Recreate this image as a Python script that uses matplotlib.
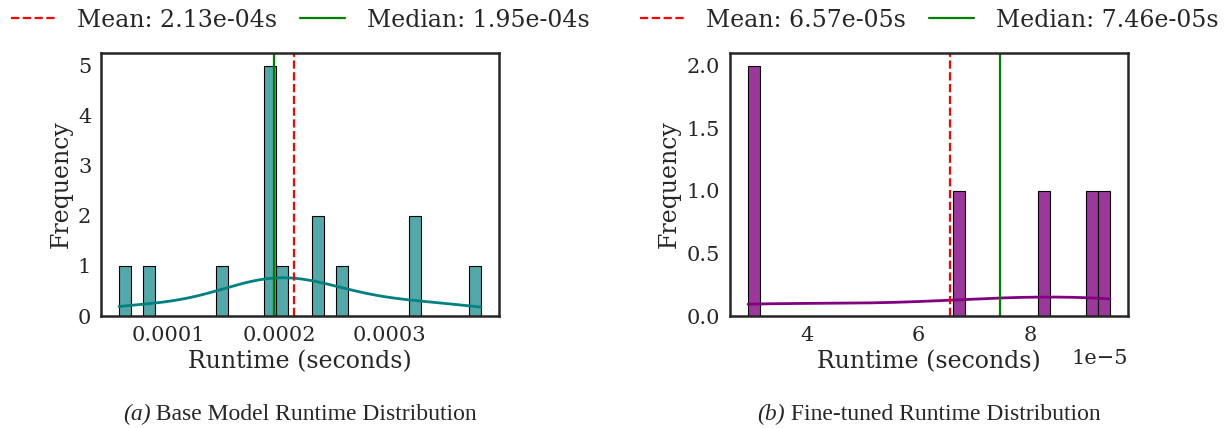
import numpy as np
import matplotlib
matplotlib.use("Agg")
import matplotlib.pyplot as plt
import seaborn as sns
from matplotlib.offsetbox import TextArea, HPacker, AnchoredOffsetbox

# Runtime samples (seconds)
base_runtimes = [5.50e-5, 8.23e-5, 1.479e-4, 1.88e-4, 1.90e-4, 1.92e-4, 1.94e-4, 1.95e-4,
                 2.02e-4, 2.33e-4, 2.37e-4, 2.57e-4, 3.20e-4, 3.25e-4, 3.83e-4]
ft_runtimes = [2.948e-5, 3.04e-5, 6.70e-5, 8.22e-5, 9.10e-5, 9.432e-5]

captions = ["Base Model Runtime Distribution", "Fine-tuned Runtime Distribution"]
letters = ["(a)", "(b)"]
colors = ["teal", "purple"]
alphas = [0.68, 0.78]

sns.set_style("white")
plt.rcParams["font.family"] = ["DejaVu Serif"]

fig = plt.figure(figsize=(12.27, 4.28), dpi=100)
lefts = [101 / 1227, 730 / 1227]
for i, (data, col) in enumerate(zip([base_runtimes, ft_runtimes], colors)):
    ax = fig.add_axes([lefts[i], 112 / 428, 398 / 1227, 263 / 428])
    arr = np.array(data)
    sns.histplot(arr, bins=30, kde=True, color=col, edgecolor="black",
                 linewidth=0.8, alpha=alphas[i], ax=ax, line_kws={"linewidth": 2})
    mean = np.mean(arr)
    median = np.median(arr)
    ax.axvline(mean, color="red", linestyle="--", linewidth=1.6,
               label=f"Mean: {mean:.2e}s")
    ax.axvline(median, color="green", linestyle="-", linewidth=1.6,
               label=f"Median: {median:.2e}s")
    ax.set_xlabel("Runtime (seconds)", fontsize=17)
    ax.set_ylabel("Frequency", fontsize=17)
    ax.tick_params(labelsize=15)
    ax.xaxis.get_offset_text().set_fontsize(15)
    for s in ax.spines.values():
        s.set_linewidth(1.8)
        s.set_color("#262626")
    ax.legend(loc="lower center", bbox_to_anchor=(0.5, 1.045), ncol=2,
              frameon=False, fontsize=17, handlelength=1.9, handletextpad=0.9,
              columnspacing=1.0, borderaxespad=0)
    cx = lefts[i] + 199 / 1227
    ta1 = TextArea(letters[i], textprops=dict(family="Liberation Serif", style="italic", fontsize=17))
    ta2 = TextArea(" " + captions[i], textprops=dict(family="Liberation Serif", fontsize=17))
    pack = HPacker(children=[ta1, ta2], align="baseline", pad=0, sep=0)
    ab = AnchoredOffsetbox(loc="center", child=pack, frameon=False,
                           bbox_to_anchor=(cx, 14 / 428), bbox_transform=fig.transFigure,
                           borderpad=0, pad=0)
    fig.add_artist(ab)

fig.savefig("out.png", dpi=100)
